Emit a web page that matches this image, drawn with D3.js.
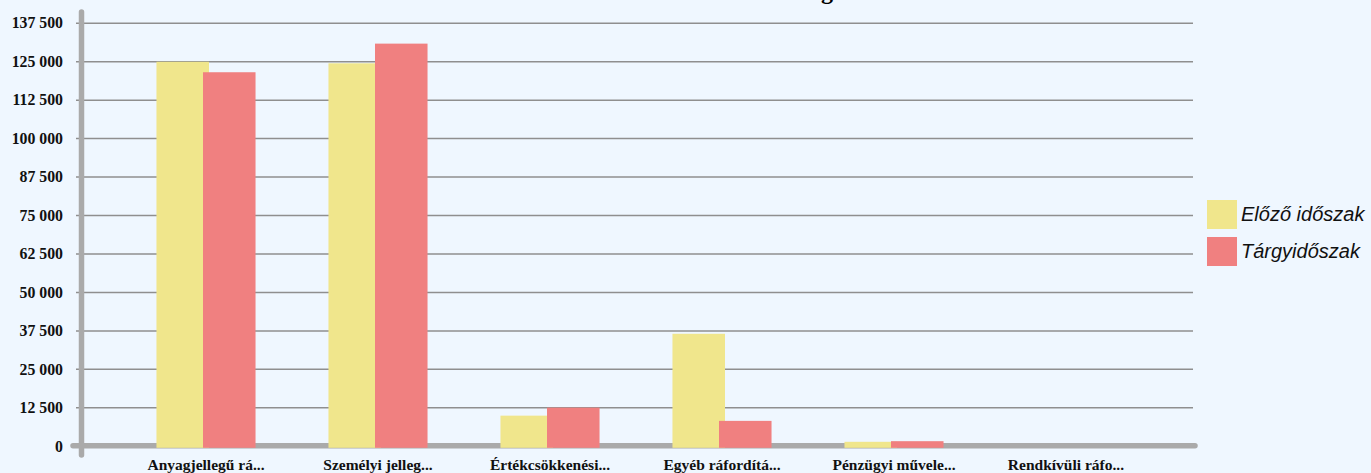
<!DOCTYPE html>
<html>
<head>
<meta charset="utf-8">
<script src="https://cdn.jsdelivr.net/npm/d3@7"></script>
<style>
  html, body { margin: 0; padding: 0; background: #eff7ff; }
  svg { display: block; }
  .tick text { font-family: "Liberation Serif", serif; font-weight: bold; font-size: 15.8px; fill: #111; }
</style>
</head>
<body>
<div id="viz"></div>
<script>
var width = 1371
var height = 473

// data
var categories = ["Anyagjellegű rá...", "Személyi jelleg...", "Értékcsökkenési...", "Egyéb ráfordítá...", "Pénzügyi művele...", "Rendkívüli ráfo..."]
var seriesNames = ["Előző időszak", "Tárgyidőszak"]
var previousValues = [124800, 124300, 9800, 36400, 1300, 0]
var currentValues = [121400, 130700, 12400, 8100, 1500, 0]
var yTicks = [0, 12500, 25000, 37500, 50000, 62500, 75000, 87500, 100000, 112500, 125000, 137500]
var colors = ["#f0e68c", "#f08080"]
var titleText = "Ráfordítások és költségek"

var svg = d3
    .select("#viz")
    .append("svg")
    .attr("width", width)
    .attr("height", height);

var locale = d3.formatLocale({decimal: ",", thousands: " ", grouping: [3], currency: ["", ""]})
var fmt = locale.format(",")

var plotLeft = 76
var plotRight = 1193

var x = d3.scaleBand()
    .domain(categories)
    .range([120, 1152])
    .paddingInner(0.424)
    .paddingOuter(0.212);

var x1 = d3.scaleBand()
    .domain(seriesNames)
    .range([0, x.bandwidth()]);

var y = d3.scaleLinear()
    .domain([0, 137500])
    .range([445.8, 22.7]);

// title, cut off at the top like in the original (only a descender shows)
svg.append("text")
    .attr("x", 857)
    .attr("y", -0.6)
    .attr("text-anchor", "end")
    .style("font-family", "Liberation Serif, serif")
    .style("font-weight", "bold")
    .style("font-size", "24px")
    .text(titleText);

// gridlines + y labels
var yAxis = svg.append("g")
    .attr("transform", "translate(" + plotLeft + ",0)")
    .call(d3.axisLeft(y)
        .tickValues(yTicks)
        .tickFormat(fmt)
        .tickSize(-(plotRight - plotLeft))
        .tickPadding(13));
yAxis.select(".domain").remove();
yAxis.selectAll(".tick line")
    .attr("stroke", "#8f8f8f")
    .attr("stroke-width", 1.5);
yAxis.selectAll(".tick text")
    .attr("dy", "0.33em");

// baseline
svg.append("line")
    .attr("x1", 73)
    .attr("x2", 1195)
    .attr("y1", y(0))
    .attr("y2", y(0))
    .attr("stroke", "#aaaaaa")
    .attr("stroke-width", 5.5)
    .attr("stroke-linecap", "round");

// y axis line
svg.append("line")
    .attr("x1", 81.5)
    .attr("x2", 81.5)
    .attr("y1", 12)
    .attr("y2", 455)
    .attr("stroke", "#aaaaaa")
    .attr("stroke-width", 5.5)
    .attr("stroke-linecap", "round");

// bars
var overlap = 3
var seriesValues = [previousValues, currentValues]
seriesValues.forEach(function (vals, si) {
    svg.append("g")
        .selectAll("rect")
        .data(vals)
        .join("rect")
        .attr("x", function (d, i) { return x(categories[i]) + x1(seriesNames[si]) - (si == 1 ? overlap : 0); })
        .attr("y", function (d) { return y(d); })
        .attr("width", x1.bandwidth() + overlap)
        .attr("height", function (d) { return d > 0 ? y(0) - y(d) + 2 : 0; })
        .attr("fill", colors[si]);
});

// x labels
svg.append("g")
    .selectAll("text")
    .data(categories)
    .join("text")
    .attr("x", function (d) { return x(d) + x.bandwidth() / 2; })
    .attr("y", 470)
    .attr("text-anchor", "middle")
    .style("font-family", "Liberation Serif, serif")
    .style("font-weight", "bold")
    .style("font-size", "15.5px")
    .style("fill", "#111")
    .text(function (d) { return d; });

// legend
var legend = svg.append("g")
    .selectAll("g")
    .data(seriesNames)
    .join("g")
    .attr("transform", function (d, i) { return "translate(1207," + (200 + i * 37) + ")"; });
legend.append("rect")
    .attr("width", 30)
    .attr("height", 29)
    .attr("fill", function (d, i) { return colors[i]; });
legend.append("text")
    .attr("x", 34)
    .attr("y", 21)
    .style("font-family", "Liberation Sans, Arial, sans-serif")
    .style("font-style", "italic")
    .style("font-size", "20px")
    .style("fill", "#111")
    .text(function (d) { return d; });
</script>
</body>
</html>
